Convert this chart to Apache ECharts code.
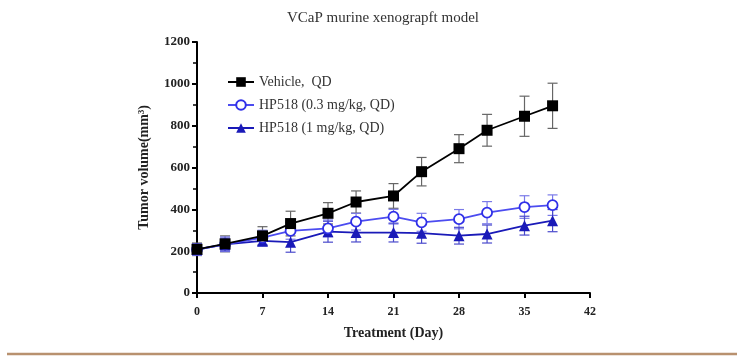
<!DOCTYPE html>
<html>
<head>
<meta charset="utf-8">
<script src="https://cdn.jsdelivr.net/npm/echarts@6/dist/echarts.min.js"></script>
<style>html,body{margin:0;padding:0;background:#fff;}#c{width:755px;height:360px;}</style>
</head>
<body>
<div id="c"></div>
<script>
const days = [0, 3, 7, 10, 14, 17, 21, 24, 28, 31, 35, 38];
const vehicle = [209, 235, 273, 332, 381, 435, 464, 580, 690, 778, 845, 895];
const vehicleErr = [30, 38, 44, 59, 51, 53, 59, 68, 67, 76, 96, 108];
const hp03 = [208, 233, 265, 297, 309, 341, 365, 338, 353, 384, 411, 420];
const hp03Err = [28, 35, 35, 40, 40, 40, 35, 43, 46, 53, 54, 49];
const hp1 = [208, 232, 249, 243, 293, 289, 289, 286, 274, 282, 322, 346];
const hp1Err = [25, 30, 25, 48, 50, 45, 45, 48, 40, 43, 45, 53];
const xTicks = [0, 7, 14, 21, 28, 35, 42];
const seriesNames = ['Vehicle,  QD', 'HP518 (0.3 mg/kg, QD)', 'HP518 (1 mg/kg, QD)'];

const serif = 'Liberation Serif, Times New Roman, serif';

function pairs(vals) { return days.map((d, i) => [d, vals[i]]); }
function errData(vals, errs) { return days.map((d, i) => [d, vals[i] - errs[i], vals[i] + errs[i]]); }
function errSeries(vals, errs, color, z) {
  return {
    type: 'custom', z: z, silent: true,
    data: errData(vals, errs),
    renderItem: function (params, api) {
      const x = api.value(0);
      const lo = api.coord([x, api.value(1)]);
      const hi = api.coord([x, api.value(2)]);
      const w = 5;
      const st = { stroke: color, lineWidth: 1.2 };
      return {
        type: 'group',
        children: [
          { type: 'line', shape: { x1: lo[0], y1: lo[1], x2: hi[0], y2: hi[1] }, style: st },
          { type: 'line', shape: { x1: lo[0] - w, y1: lo[1], x2: lo[0] + w, y2: lo[1] }, style: st },
          { type: 'line', shape: { x1: hi[0] - w, y1: hi[1], x2: hi[0] + w, y2: hi[1] }, style: st }
        ]
      };
    }
  };
}

const chart = echarts.init(document.getElementById('c'), null, { renderer: 'canvas' });
chart.setOption({
  animation: false,
  backgroundColor: '#fff',
  title: {
    text: 'VCaP murine xenograpft model',
    left: 378, top: 6, textAlign: 'center',
    textStyle: { fontFamily: serif, fontSize: 15, fontWeight: 'normal', color: '#333' }
  },
  grid: { left: 197, right: 165, top: 42, bottom: 67 },
  legend: {
    orient: 'vertical', left: 222, top: 70, itemGap: 9,
    itemWidth: 26, itemHeight: 12,
    data: seriesNames,
    textStyle: { fontFamily: serif, fontSize: 14, color: '#333' }
  },
  xAxis: {
    type: 'value', min: 0, max: 42, interval: 7,
    name: 'Treatment (Day)', nameLocation: 'middle', nameGap: 33,
    nameTextStyle: { fontFamily: serif, fontSize: 14, fontWeight: 'bold', color: '#222' },
    axisLine: { lineStyle: { color: '#000', width: 2 } },
    axisTick: { length: 5, lineStyle: { color: '#000', width: 2 } },
    axisLabel: { fontFamily: serif, fontSize: 12, fontWeight: 'bold', color: '#222', margin: 13,
      formatter: v => xTicks.indexOf(v) >= 0 ? String(v) : '' },
    splitLine: { show: false }
  },
  yAxis: {
    type: 'value', min: 0, max: 1200, interval: 200,
    name: 'Tumor volume(mm³)', nameLocation: 'middle', nameGap: 46, nameRotate: 90,
    nameTextStyle: { fontFamily: serif, fontSize: 14, fontWeight: 'bold', color: '#222' },
    axisLine: { show: true, lineStyle: { color: '#000', width: 2 } },
    axisTick: { show: true, length: 5, lineStyle: { color: '#000', width: 2 } },
    minorTick: { show: true, splitNumber: 2, length: 4, lineStyle: { color: '#000', width: 1.5 } },
    axisLabel: { fontFamily: serif, fontSize: 13, fontWeight: 'bold', color: '#222', margin: 7,
      formatter: v => String(v) },
    splitLine: { show: false }
  },
  graphic: [{
    type: 'line', shape: { x1: 7, y1: 354, x2: 737, y2: 354 },
    style: { stroke: '#b8916f', lineWidth: 2.5 }
  }],
  series: [
    errSeries(vehicle, vehicleErr, '#666', 2),
    errSeries(hp03, hp03Err, '#7a7ae8', 2),
    errSeries(hp1, hp1Err, '#4a4acc', 2),
    {
      name: seriesNames[0], type: 'line', z: 5, data: pairs(vehicle),
      symbol: 'rect', symbolSize: 11,
      itemStyle: { color: '#000' }, lineStyle: { color: '#000', width: 1.8 }
    },
    {
      name: seriesNames[1], type: 'line', z: 4, data: pairs(hp03),
      symbol: 'circle', symbolSize: 10,
      itemStyle: { color: '#fff', borderColor: '#3030e8', borderWidth: 1.8 },
      lineStyle: { color: '#4c4cf0', width: 1.8 }
    },
    {
      name: seriesNames[2], type: 'line', z: 3, data: pairs(hp1),
      symbol: 'triangle', symbolSize: 11,
      itemStyle: { color: '#1a1ab8' }, lineStyle: { color: '#1a1ab8', width: 1.8 }
    }
  ]
});
</script>
</body>
</html>
